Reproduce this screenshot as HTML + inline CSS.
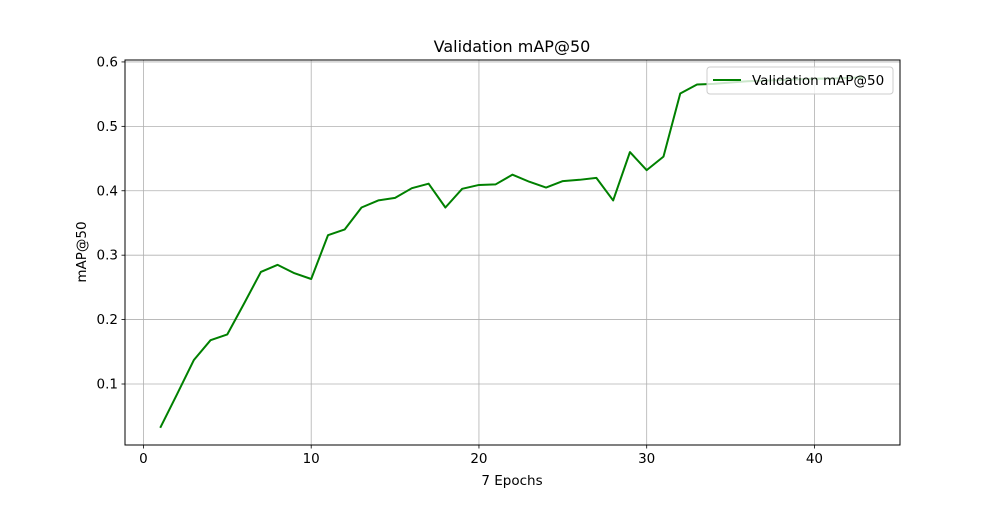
<!DOCTYPE html>
<html><head><meta charset="utf-8"><style>
body{margin:0;background:#fff;}
svg text{font-family:"DejaVu Sans","Liberation Sans",sans-serif;fill:#000;}
</style></head><body>
<svg id="chart" width="1000" height="500" xmlns="http://www.w3.org/2000/svg">
<rect width="1000" height="500" fill="#fff"/>
<g id="grid"></g>
<g id="ticks"></g>
<polyline id="line" fill="none" stroke="#008000" stroke-width="2" stroke-linejoin="round"/>
<rect x="125" y="60" width="775" height="385" fill="none" stroke="#000" stroke-width="1"/>
<text x="512" y="52" font-size="16" text-anchor="middle">Validation mAP@50</text>
<text x="512" y="485" font-size="13.5" text-anchor="middle">7 Epochs</text>
<text transform="translate(86,252) rotate(-90)" font-size="13.5" text-anchor="middle">mAP@50</text>
<g>
<rect x="707" y="67" width="186" height="27" rx="3" fill="#fff" fill-opacity="0.8" stroke="#ccc"/>
<line x1="713" y1="80" x2="741" y2="80" stroke="#008000" stroke-width="2"/>
<text x="752" y="85" font-size="13.5">Validation mAP@50</text>
</g>
</svg>
<script>
const epochs=[1,2,3,4,5,6,7,8,9,10,11,12,13,14,15,16,17,18,19,20,21,22,23,24,25,26,27,28,29,30,31,32,33,34,35,36,37,38,39,40,41,42,43];
const mapValues=[0.032,0.084,0.137,0.168,0.177,0.225,0.274,0.285,0.272,0.263,0.331,0.340,0.374,0.385,0.389,0.404,0.411,0.374,0.403,0.409,0.410,0.425,0.414,0.405,0.415,0.417,0.420,0.385,0.460,0.432,0.453,0.551,0.565,0.566,0.568,0.570,0.571,0.572,0.573,0.574,0.574,0.575,0.576];
const xTicks=[0,10,20,30,40];
const yTicks=[0.1,0.2,0.3,0.4,0.5,0.6];
const L=125,R=900,T=60,B=445;
const xmin=-1.1,xmax=45.1,ymin=0.0053,ymax=0.603;
const X=v=>L+(v-xmin)/(xmax-xmin)*(R-L);
const Y=v=>B-(v-ymin)/(ymax-ymin)*(B-T);
const ns="http://www.w3.org/2000/svg";
const grid=document.getElementById('grid'),ticks=document.getElementById('ticks');
function mk(tag,attrs,parent){const e=document.createElementNS(ns,tag);for(const k in attrs)e.setAttribute(k,attrs[k]);parent.appendChild(e);return e;}
xTicks.forEach(t=>{const x=X(t);
const g=mk('line',{x1:x,x2:x,y1:T,y2:B,stroke:'#b0b0b0','stroke-width':0.8},grid);


mk('line',{x1:x,x2:x,y1:B,y2:B+3.5,stroke:'#000','stroke-width':0.8},ticks);
const tx=mk('text',{x:x,y:B+18,'font-size':13.5,'text-anchor':'middle'},ticks);tx.textContent=t;

});
yTicks.forEach(t=>{const y=Y(t);
const g=mk('line',{x1:L,x2:R,y1:y,y2:y,stroke:'#b0b0b0','stroke-width':0.8},grid);


mk('line',{x1:L-3.5,x2:L,y1:y,y2:y,stroke:'#000','stroke-width':0.8},ticks);
const tx=mk('text',{x:L-7,y:y+4.5,'font-size':13.5,'text-anchor':'end'},ticks);tx.textContent=t.toFixed(1);

});
document.getElementById('line').setAttribute('points',epochs.map((e,i)=>X(e)+','+Y(mapValues[i])).join(' '));
</script>
</body></html>
